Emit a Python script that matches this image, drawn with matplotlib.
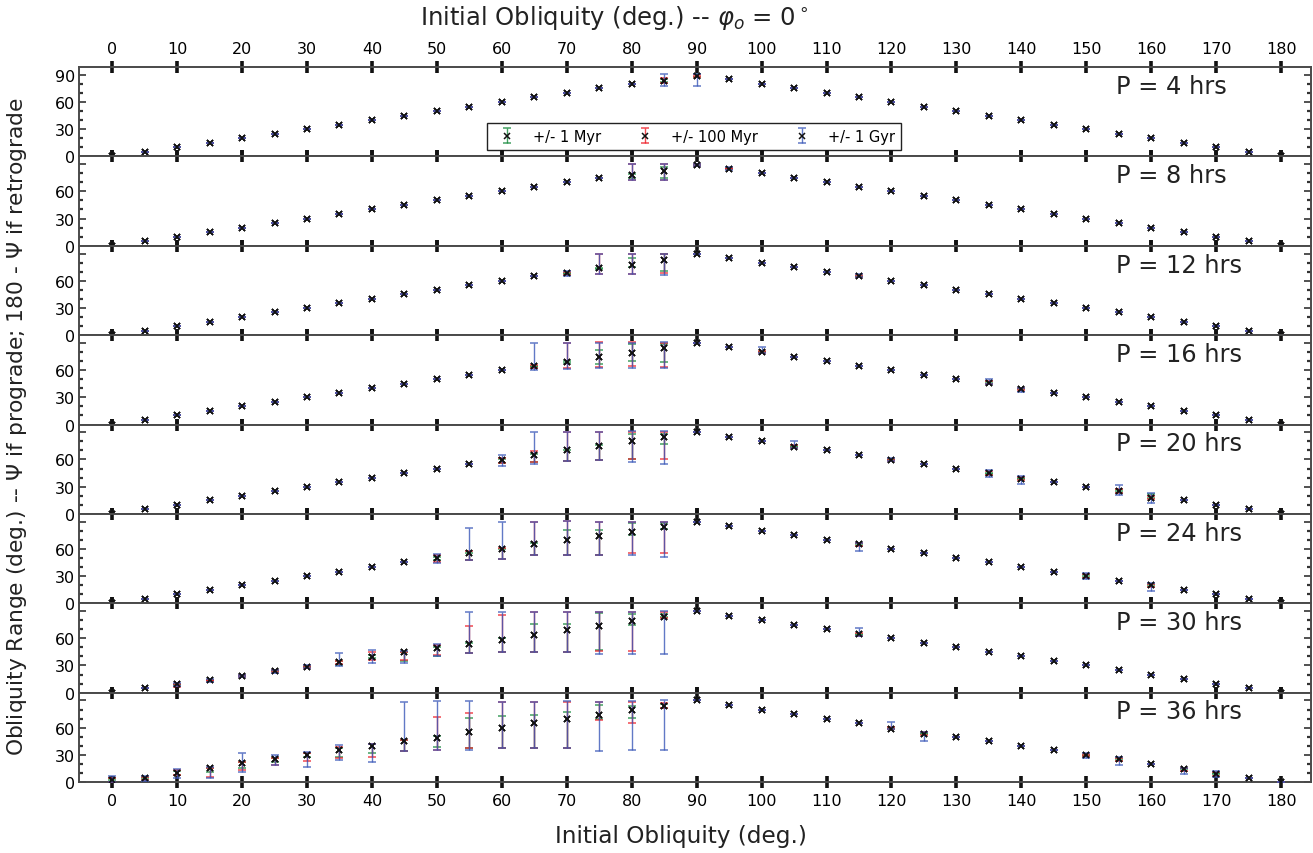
import matplotlib
matplotlib.use("Agg")
import matplotlib.pyplot as plt
from matplotlib.colors import to_rgba
from matplotlib.ticker import MultipleLocator, FixedLocator, FixedFormatter

# Initial obliquity grid (deg.)
x_obl = [0, 5, 10, 15, 20, 25, 30, 35, 40, 45, 50, 55, 60, 65, 70, 75, 80, 85, 90,
         95, 100, 105, 110, 115, 120, 125, 130, 135, 140, 145, 150, 155, 160, 165, 170, 175, 180]

# Obliquity where the spin axis barely moves (Psi or 180 - Psi)
psi_nominal = [0, 5, 10, 15, 20, 25, 30, 35, 40, 45, 50, 55, 60, 65, 70, 75, 80, 85, 90,
               85, 80, 75, 70, 65, 60, 55, 50, 45, 40, 35, 30, 25, 20, 15, 10, 5, 0]

periods = [4, 8, 12, 16, 20, 24, 30, 36]

# Points with a visible spread:
# x -> (centre, 1 Myr lo, 1 Myr hi, 100 Myr lo, 100 Myr hi, 1 Gyr lo, 1 Gyr hi)
spread_4h = {
    85: (83, 82, 85, 81, 86, 78, 90.5),
    90: (88.5, 88, 90.5, 87, 90, 78, 90.5),
}
spread_8h = {
    80: (78, 75, 79, 72, 90.5, 72, 90.5),
    85: (82, 75, 87, 73, 90, 72.5, 90.5),
    90: (89, 88.5, 90, 88, 90.5, 88, 90.5),
    95: (85, 84.5, 85.5, 84.5, 86, 84, 86.5),
}
spread_12h = {
    70: (68, 67.5, 69, 66, 70, 65, 70.5),
    75: (73.5, 73, 74.5, 67, 90, 67, 90),
    80: (77.5, 74.6, 85, 67, 89.5, 67, 89.5),
    85: (83, 71, 89, 69, 90, 66, 90),
    115: (65, 64.5, 65.5, 64, 66.5, 64, 67),
}
spread_16h = {
    65: (64, 63, 65, 62, 66, 60, 90),
    70: (69, 68, 70, 62, 90, 61, 90),
    75: (74, 67, 82, 63, 91, 62, 90),
    80: (79, 70.6, 89, 64, 91, 62.5, 90),
    85: (84, 69, 89, 63, 90, 62, 91),
    100: (80, 79.5, 80.5, 79, 81, 79, 86),
    135: (46, 45, 47, 45, 48, 45, 50.5),
    140: (39.5, 39, 40, 38, 40, 35.7, 40.5),
}
spread_20h = {
    60: (59, 56, 60, 56, 62, 53, 65),
    65: (65, 57, 66, 57, 69, 55, 90),
    70: (70, 58, 70.5, 58, 90, 58, 90),
    75: (75, 59.5, 76, 59, 90, 59, 90),
    80: (80, 60, 88, 60.5, 90, 57, 91),
    85: (84.5, 77, 88, 60, 90, 55, 91),
    105: (74, 73.5, 75, 73, 75.5, 73, 80.5),
    120: (59.6, 59, 60.5, 58.5, 61, 58, 61.5),
    135: (45, 44.5, 45.5, 43, 47, 41, 48.5),
    140: (39, 38.5, 40, 37, 41, 33.5, 42),
    155: (25, 24, 26, 23.5, 27, 21, 32),
    160: (18, 18, 22, 16, 20, 12, 23.5),
}
spread_24h = {
    50: (49.6, 48, 51, 45, 53, 44, 54),
    55: (55, 48, 56, 48, 58, 48, 83.5),
    60: (59.6, 49, 60, 49, 61, 49, 89.7),
    65: (65, 53, 66, 53, 90, 53, 90),
    70: (69.5, 53, 81, 53, 91, 53, 91),
    75: (74.3, 53, 80.5, 53, 90, 53, 90),
    80: (79, 75, 88, 55, 90, 53, 90),
    85: (84, 82, 88, 55, 90, 51.5, 90),
    115: (65, 64, 66, 63, 66, 58, 66.5),
    150: (30, 29, 31, 28, 32, 27, 33),
    160: (20, 19.5, 21, 18, 21, 14, 22),
}
spread_30h = {
    10: (9, 8, 10, 6, 10, 7, 11),
    15: (13.5, 13, 14, 12.5, 14.5, 12, 15),
    20: (18.5, 18, 19, 17.5, 19.5, 17, 20),
    25: (24, 23.5, 24.5, 23, 25, 22, 25.5),
    30: (28.5, 28, 29, 27.5, 29.5, 27, 30),
    35: (33.5, 31, 35, 32, 35, 29, 44),
    40: (39.5, 38, 42, 36, 45, 33, 47),
    45: (44.5, 35, 45, 36, 45, 33, 46),
    50: (49, 40, 50, 42, 53, 40, 54),
    55: (54, 44, 55, 44, 74, 44, 88.6),
    60: (58.5, 45, 60, 45, 86, 44.5, 88.6),
    65: (64, 45, 75.7, 45, 88.6, 44.5, 88.6),
    70: (69, 45, 76, 44.5, 88.6, 44.5, 88.6),
    75: (74, 47, 88, 46, 88.6, 43, 88.6),
    80: (79, 75, 87, 46, 88.6, 43, 88.6),
    85: (84, 83, 87, 82, 89, 43, 90.4),
    115: (64.5, 64, 65, 63, 66, 63, 71),
}
spread_36h = {
    0: (2, 1, 3, 0, 5, 0, 7),
    5: (5, 3, 6, 2, 6, 1, 7),
    10: (10.5, 8, 12, 8, 13, 5, 14),
    15: (15, 11, 16, 6, 16, 5, 17),
    20: (20.6, 16, 22, 13, 22, 10.7, 31.6),
    25: (25.7, 22, 27, 19, 27, 18.8, 29.8),
    30: (30, 28, 32, 22.8, 32, 17, 33),
    35: (35, 28, 37, 26, 39, 24.6, 40.4),
    40: (40, 31.6, 42, 28, 42, 21.7, 42),
    45: (45, 34, 46, 34, 46, 34, 88),
    50: (49, 39, 51, 35, 72, 35, 89),
    55: (55, 37, 71, 38, 75.7, 35, 89),
    60: (59.6, 38, 73, 37.5, 88, 37.5, 88),
    65: (64.7, 38, 74, 37.5, 88, 37.5, 88),
    70: (69.5, 38, 77, 37.5, 88, 37.5, 89),
    75: (74, 70, 85, 68, 88, 34.6, 88),
    80: (79, 71, 84, 65, 88, 35, 89),
    85: (84, 82, 86, 82, 87, 35, 90),
    120: (59, 58.5, 60, 58, 61, 58, 66),
    125: (53.5, 53, 54.5, 52, 55, 45, 55),
    150: (29.5, 29, 30, 28.5, 31, 27, 31.5),
    155: (25, 24, 26, 23, 27, 19, 28),
    165: (14.5, 14, 15, 12, 16, 9, 16),
    170: (9, 8.5, 9.5, 7, 11, 6, 12),
}
spreads = [spread_4h, spread_8h, spread_12h, spread_16h,
           spread_20h, spread_24h, spread_30h, spread_36h]

series_labels = ["+/- 1 Myr", "+/- 100 Myr", "+/- 1 Gyr"]
series_colors = ["#14893a", "#ee1c25", "#3a58b8"]

plt.rcParams["font.family"] = ["DejaVu Sans"]
plt.rcParams["mathtext.fontset"] = "dejavusans"

fig, axes = plt.subplots(8, 1, sharex=True, figsize=(13.13, 8.54), dpi=100)
fig.subplots_adjust(left=0.0602, right=0.9985, top=0.9204, bottom=0.0831, hspace=0)

for ax, period, spread in zip(axes, periods, spreads):
    centre = [spread[x][0] if x in spread else p for x, p in zip(x_obl, psi_nominal)]
    for k, (label, color) in enumerate(zip(series_labels, series_colors)):
        lo_err, hi_err = [], []
        for x, c in zip(x_obl, centre):
            if x in spread:
                lo_err.append(max(0.0, c - spread[x][1 + 2 * k]))
                hi_err.append(max(0.0, spread[x][2 + 2 * k] - c))
            else:
                lo_err.append(0.0)
                hi_err.append(0.0)
        ax.errorbar(x_obl, centre, yerr=[lo_err, hi_err], fmt="x", color="#111111",
                    ms=4.3, mew=1.1, ecolor=to_rgba(color, 0.8), elinewidth=1.0,
                    capsize=2.6, capthick=2.4, label=label, zorder=2 + k)

    ax.set_xlim(-5.1, 184.6)
    ax.set_ylim(0, 98.6)
    ax.xaxis.set_major_locator(MultipleLocator(10))
    ax.yaxis.set_major_locator(FixedLocator([0, 30, 60, 90]))
    ax.yaxis.set_minor_locator(MultipleLocator(10))
    if period == periods[0]:
        ax.yaxis.set_major_formatter(FixedFormatter(["0", "30", "60", "90"]))
    else:
        ax.yaxis.set_major_formatter(FixedFormatter(["0", "30", "60", ""]))

    ax.tick_params(axis="x", which="major", direction="inout", length=8, width=2.6,
                   color="#111111", top=True, bottom=True,
                   labeltop=False, labelbottom=False, labelsize=11.5, pad=4)
    ax.tick_params(axis="y", which="major", direction="in", length=5, width=1.2,
                   left=True, right=True, labelsize=11.5, color="#333333", pad=3)
    ax.tick_params(axis="y", which="minor", direction="in", length=3, width=1.6,
                   left=True, right=True, color="#333333")
    for side in ["top", "bottom", "left", "right"]:
        ax.spines[side].set_color("#4a4a4a")
        ax.spines[side].set_linewidth(1.4)

    ax.text(0.842, 0.79, f"P = {period} hrs", transform=ax.transAxes,
            fontsize=17.4, ha="left", va="center", color="#222222")

axes[0].tick_params(axis="x", labeltop=True)
axes[-1].tick_params(axis="x", labelbottom=True)

axes[0].legend(loc="center", bbox_to_anchor=(0.499, 0.224), ncol=3, fontsize=10.5,
               frameon=True, fancybox=False, framealpha=1, edgecolor="#222222",
               columnspacing=2.0, handletextpad=0.8, borderpad=0.4)

fig.text(0.32, 0.979, r"Initial Obliquity (deg.) -- $\varphi_o$ = 0$^\circ$",
         ha="left", va="center", fontsize=17.5, color="#222222")
fig.text(0.5187, 0.021, "Initial Obliquity (deg.)", ha="center", va="center",
         fontsize=16.7, color="#222222")
fig.text(0.013, 0.501,
         r"Obliquity Range (deg.) -- $\Psi$ if prograde; 180 - $\Psi$ if retrograde",
         rotation=90, ha="center", va="center", fontsize=15.7, color="#222222")

fig.savefig("out.png", dpi=100)
